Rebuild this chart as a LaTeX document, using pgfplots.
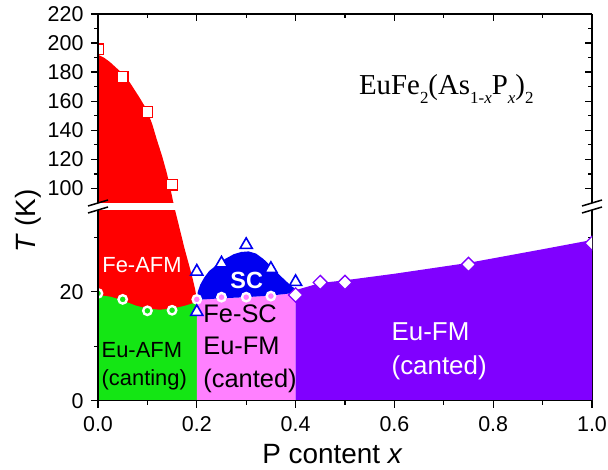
\documentclass[border=0pt]{standalone}
\usepackage{fontspec}
\setmainfont{Liberation Sans}
\newfontfamily\seriffont{Liberation Serif}
\usepackage{pgfplots}
\pgfplotsset{compat=1.18}
\definecolor{cred}{RGB}{255,0,0}
\definecolor{cgreen}{RGB}{20,230,20}
\definecolor{cpink}{RGB}{255,128,255}
\definecolor{cpurple}{RGB}{128,0,255}
\definecolor{cblue}{RGB}{0,0,240}
\newcommand\fs[1]{\fontsize{#1}{#1}\selectfont}
\newcommand\sub[1]{\raisebox{-0.33em}{\fontsize{17}{17}\selectfont #1}}
\pgfplotsset{
 base/.style={scale only axis, width=494bp, xmin=0, xmax=1,
   /pgf/number format/assume math mode=true,
   axis line style={line width=1.5bp, black},
   tick style={line width=1.3bp, black},
   major tick length=7bp, minor tick length=4bp,
   ticklabel style={font=\fs{21.5}},
   xticklabel style={yshift=-5bp},
   yticklabel style={xshift=-4bp},
   xtick={0,0.2,0.4,0.6,0.8,1}, minor x tick num=1,
   clip marker paths=true,
   anchor=south west},
 lower/.style={base, at={(0,0)}, height=190.7bp, ymin=0, ymax=35, ytick={0,20}, minor ytick={10,30}},
 upper/.style={base, at={(0,197.7bp)}, height=189bp, ymin=90, ymax=220, ytick={100,120,...,220}, minor y tick num=1},
}
\begin{document}
\begin{tikzpicture}
\path[use as bounding box] (-98bp,-69.3bp) rectangle (510bp,400.7bp);
% lower right overlay
\begin{axis}[lower, axis x line=none, axis y line*=right, tick align=inside, yticklabels={}]
\end{axis}
% lower main
\begin{axis}[lower, axis x line*=bottom, axis y line*=left, tick align=outside,
  xticklabels={0.0,0.2,0.4,0.6,0.8,1.0}, axis on top]
\addplot[fill=cred, draw=none] coordinates {(0,0) (0,35) (0.156,35) (0.175,28) (0.19,23) (0.197,20.3) (0.2,18.5) (0.2,0)} -- cycle;
\addplot[fill=cgreen, draw=none] coordinates {(0,0) (0,19.4) (0.025,19.1) (0.05,18.4) (0.075,17.5) (0.1,16.9) (0.125,16.7) (0.15,16.9) (0.175,17.4) (0.2,18.1) (0.2,0)} -- cycle;
\addplot[fill=cpink, draw=none] coordinates {(0.2,0) (0.2,18.5) (0.25,18.8) (0.3,19.0) (0.35,19.3) (0.4,19.8) (0.4,0)} -- cycle;
\addplot[fill=cblue, draw=none] coordinates {(0.2,18.5) (0.202,20) (0.207,21.3) (0.215,22.6) (0.225,23.8) (0.24,24.9) (0.257,26.0) (0.275,26.9) (0.29,27.3) (0.305,27.4) (0.32,27.0) (0.335,26.0) (0.35,24.7) (0.365,23.3) (0.38,22.0) (0.392,21.0) (0.4,20.5) (0.4,19.8) (0.35,19.3) (0.3,19.0) (0.25,18.8)} -- cycle;
\addplot[fill=cpurple, draw=none] coordinates {(0.4,0) (0.4,20.3) (0.45,21.6) (0.5,22.1) (0.6,23.3) (0.75,25.3) (0.9,27.8) (1,29.5) (1,0)} -- cycle;
\addplot[only marks, mark=*, mark size=4.2bp, mark options={draw=white, fill=cgreen, line width=2.4bp}] coordinates {(0,19.7) (0.05,18.6) (0.1,16.5) (0.15,16.6)};
\addplot[only marks, mark=*, mark size=4.2bp, mark options={draw=white, fill=cpink, line width=2.4bp}] coordinates {(0.2,18.6) (0.25,19.0) (0.3,19.0) (0.35,19.2)};
\addplot[only marks, mark=triangle*, mark size=7bp, mark options={draw=cblue, fill=white, line width=1.6bp}] coordinates {(0.2,16.3) (0.2,23.7) (0.25,25.2) (0.3,28.6) (0.35,24.2) (0.4,21.8)};
\addplot[only marks, mark=square*, mark size=5bp, mark options={draw=cpurple, fill=white, line width=1.3bp, rotate=45}] coordinates {(0.4,19.4) (0.45,21.7) (0.5,21.7) (0.75,25.0) (1,28.9)};
\node[white, font=\fs{22}] at (axis cs:0.089,24.9) {Fe-AFM};
\node[white, font=\fs{23.5}\bfseries] at (axis cs:0.301,22.1) {SC};
\node[anchor=west, align=left, inner sep=0pt, font=\fontsize{22}{28}\selectfont] at (axis cs:0.007,6.4) {Eu-AFM\\(canting)};
\node[anchor=west, align=left, inner sep=0pt, font=\fontsize{25.5}{32.5}\selectfont] at (axis cs:0.213,9.6) {Fe-SC\\Eu-FM\\(canted)};
\node[anchor=west, align=left, inner sep=0pt, white, font=\fontsize{26}{34}\selectfont] at (axis cs:0.594,9.0) {Eu-FM\\(canted)};
\end{axis}
% upper top-right overlay
\begin{axis}[upper, axis x line*=top, axis y line*=right, tick align=inside, xticklabels={}, yticklabels={}]
\end{axis}
% upper main
\begin{axis}[upper, axis x line=none, axis y line*=left, tick align=outside, axis on top]
\addplot[fill=cred, draw=none] coordinates {(0,90) (0,192) (0.012,190) (0.024,187) (0.045,180.5) (0.065,172.6) (0.085,162) (0.099,154) (0.11,144) (0.119,133.7) (0.13,122) (0.139,111) (0.146,101) (0.152,91) (0.153,90)} -- cycle;
\addplot[only marks, mark=square*, mark size=5.3bp, mark options={draw=cred, fill=white, line width=1.2bp}] coordinates {(0,195.7) (0.05,176.8) (0.1,152.6) (0.15,102.6)};
\node[anchor=base, font=\seriffont\fs{29}] at (axis cs:0.705,164.8) {EuFe\sub{2}(As\sub{1-\textit{x}}P\sub{\textit{x}})\sub{2}};
\end{axis}
\node[rotate=90, font=\fs{28}] at (-70bp,179.7bp) {\textit{T} (K)};
\node[anchor=base, font=\fs{28}] at (234.5bp,-62.3bp) {P content \textit{x}};
\draw[line width=1.5bp] (-10bp,194.7bp) -- (10bp,200.7bp);
\draw[line width=1.5bp] (-10bp,187.7bp) -- (10bp,193.7bp);
\draw[line width=1.5bp] (484bp,194.7bp) -- (504bp,200.7bp);
\draw[line width=1.5bp] (484bp,187.7bp) -- (504bp,193.7bp);
\end{tikzpicture}
\end{document}
